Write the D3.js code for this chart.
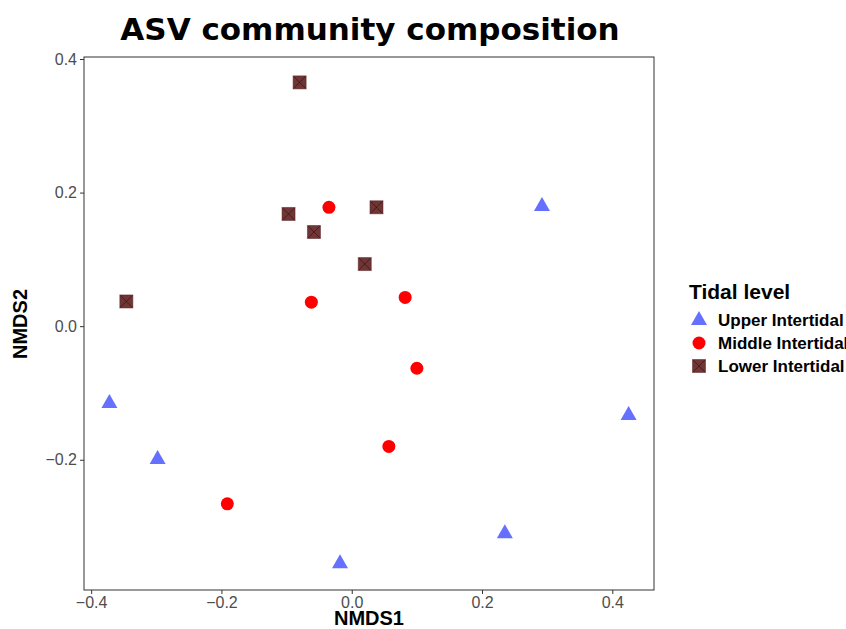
<!DOCTYPE html>
<meta charset="utf-8">
<title>ASV community composition</title>
<script src="https://d3js.org/d3.v7.min.js"></script>
<style>
    body { margin: 0; background: #fff; }
    svg text { font-family: "Liberation Sans", Arial, sans-serif; }
</style>
<body>
<div id="chart"></div>
<script>
    // data
    var groups = ["Upper Intertidal", "Middle Intertidal", "Lower Intertidal"];
    var upperX = [-0.372, -0.298, -0.018, 0.235, 0.292, 0.425];
    var upperY = [-0.115, -0.199, -0.355, -0.310, 0.180, -0.133];
    var middleX = [-0.035, -0.062, 0.082, 0.100, 0.057, -0.191];
    var middleY = [0.178, 0.036, 0.043, -0.063, -0.180, -0.266];
    var lowerX = [-0.080, -0.097, -0.058, 0.038, 0.020, -0.346];
    var lowerY = [0.365, 0.168, 0.141, 0.178, 0.093, 0.037];
    var xTicks = [-0.4, -0.2, 0.0, 0.2, 0.4];
    var yTicks = [-0.2, 0.0, 0.2, 0.4];

    var colors = {"Upper Intertidal": "#6670ff", "Middle Intertidal": "#ff0000", "Lower Intertidal": "#5a1a1a"};

    var W = 846, H = 629;
    var panel = {left: 84, right: 654, top: 57, bottom: 590};

    var svg = d3.select("#chart").append("svg")
        .attr("width", W).attr("height", H);

    var x = d3.scaleLinear().domain([-0.411, 0.464]).range([panel.left, panel.right]);
    var y = d3.scaleLinear().domain([-0.395, 0.403]).range([panel.bottom, panel.top]);

    // panel border
    svg.append("rect")
        .attr("x", panel.left).attr("y", panel.top)
        .attr("width", panel.right - panel.left)
        .attr("height", panel.bottom - panel.top)
        .attr("fill", "none").attr("stroke", "#333").attr("stroke-width", 1);

    var fmt = function(d) { return d3.format(".1f")(d).replace("-", "\u2212"); };

    var xAxis = svg.append("g")
        .attr("transform", "translate(0," + panel.bottom + ")")
        .call(d3.axisBottom(x).tickValues(xTicks).tickFormat(fmt).tickSize(4).tickPadding(3));
    var yAxis = svg.append("g")
        .attr("transform", "translate(" + panel.left + ",0)")
        .call(d3.axisLeft(y).tickValues(yTicks).tickFormat(fmt).tickSize(4).tickPadding(3));
    [xAxis, yAxis].forEach(function(a) {
        a.select(".domain").remove();
        a.selectAll(".tick line").attr("stroke", "#333");
        a.selectAll(".tick text").attr("fill", "#4d4d4d").style("font-size", "16px");
    });

    // points
    var points = [];
    upperX.forEach(function(v, i) { points.push({g: groups[0], x: v, y: upperY[i]}); });
    middleX.forEach(function(v, i) { points.push({g: groups[1], x: v, y: middleY[i]}); });
    lowerX.forEach(function(v, i) { points.push({g: groups[2], x: v, y: lowerY[i]}); });

    function marker(sel, g) {
        if (g == "Upper Intertidal") {
            sel.append("path").attr("d", "M0,-9L8,5L-8,5Z").attr("fill", colors[g]);
        } else if (g == "Middle Intertidal") {
            sel.append("circle").attr("r", 6.5).attr("fill", colors[g]);
        } else {
            sel.append("rect").attr("x", -6.5).attr("y", -6.5).attr("width", 13).attr("height", 13)
                .attr("fill", colors[g]).attr("fill-opacity", 0.88)
                .attr("stroke", colors[g]).attr("stroke-opacity", 0.5).attr("stroke-width", 1);
            sel.append("path").attr("d", "M-6,-6L6,6M-6,6L6,-6")
                .attr("stroke", "#3a0a0a").attr("stroke-width", 0.8).attr("stroke-opacity", 0.8);
        }
    }

    svg.selectAll(".pt").data(points).enter()
        .append("g").attr("class", "pt")
        .attr("transform", function(d) { return "translate(" + x(d.x) + "," + y(d.y) + ")"; })
        .each(function(d) { marker(d3.select(this), d.g); });

    // titles
    svg.append("text").attr("x", 370).attr("y", 40).attr("text-anchor", "middle")
        .style("font-family", "'DejaVu Sans', sans-serif")
        .style("font-weight", "bold").style("font-size", "31px")
        .text("ASV community composition");
    svg.append("text").attr("x", 369).attr("y", 625).attr("text-anchor", "middle")
        .style("font-weight", "bold").style("font-size", "20px").text("NMDS1");
    svg.append("text").attr("transform", "translate(27,324) rotate(-90)").attr("text-anchor", "middle")
        .style("font-weight", "bold").style("font-size", "20px").text("NMDS2");

    // legend
    var leg = svg.append("g").attr("transform", "translate(689,0)");
    leg.append("text").attr("x", 0).attr("y", 299)
        .style("font-weight", "bold").style("font-size", "21px").text("Tidal level");
    groups.forEach(function(g, i) {
        var item = leg.append("g").attr("transform", "translate(10," + (320 + i * 23) + ")");
        marker(item, g);
        item.append("text").attr("x", 19).attr("y", 6)
            .style("font-weight", "bold").style("font-size", "17px").text(g);
    });
</script>
</body>
